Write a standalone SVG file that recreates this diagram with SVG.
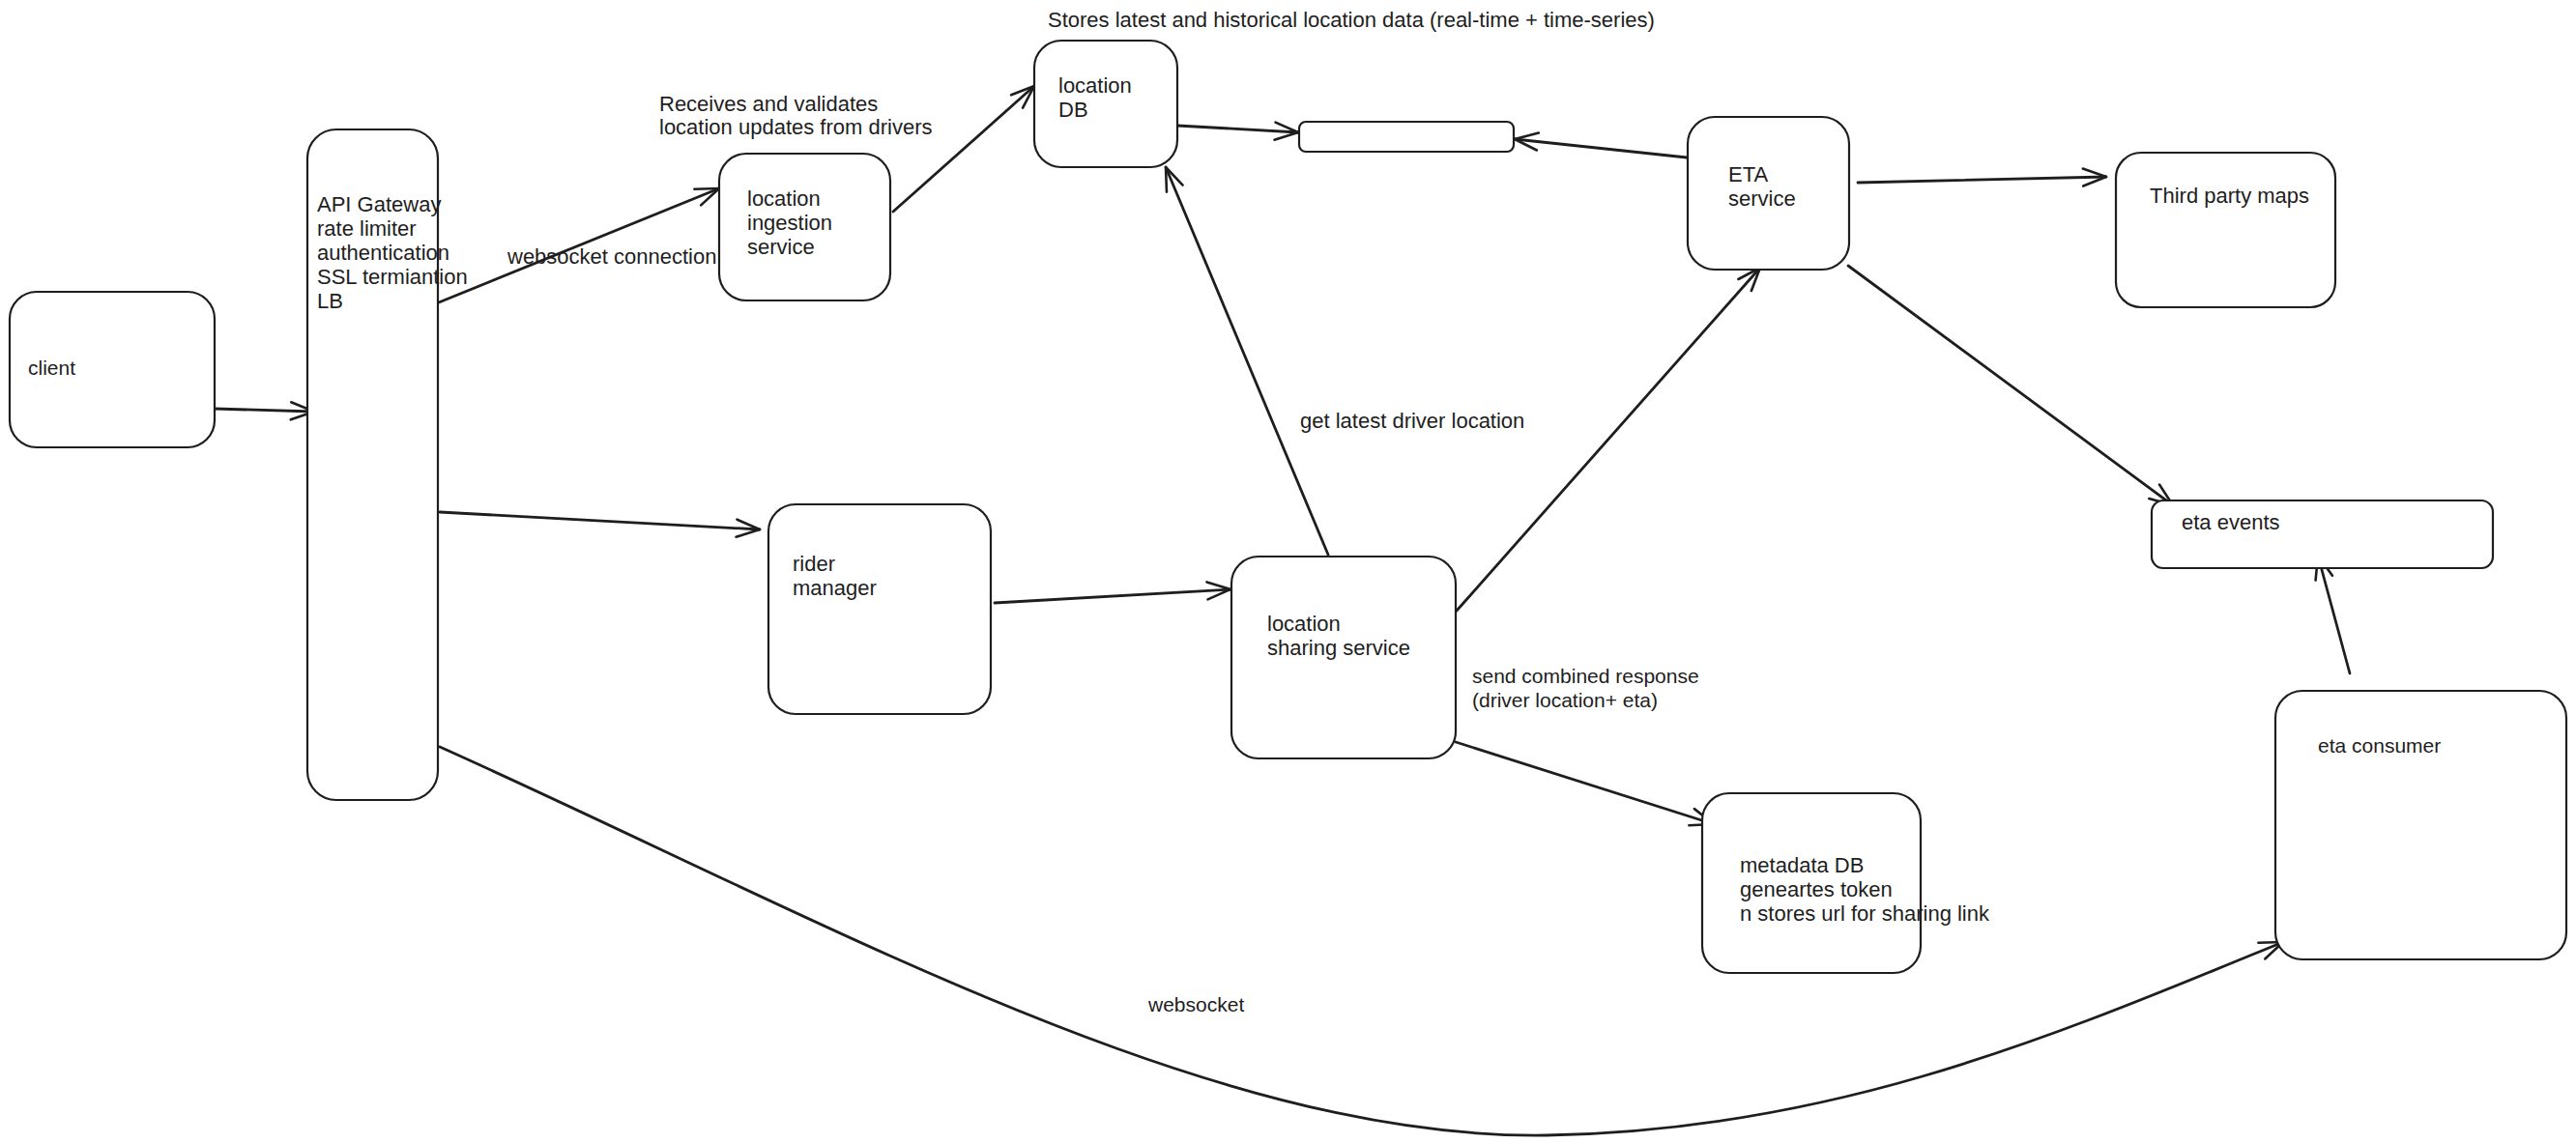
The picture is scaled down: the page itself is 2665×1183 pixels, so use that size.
<svg xmlns="http://www.w3.org/2000/svg" width="2665" height="1183" viewBox="0 0 2665 1183">
<defs>
<style>
.box{fill:#ffffff;stroke:#1e1e1e;stroke-width:2.2}
.t{font-family:"Liberation Sans",Arial,sans-serif;font-size:22px;fill:#1e1e1e}
.c{fill:none;stroke:#1e1e1e;stroke-width:2.8;stroke-linecap:round}
</style>
<marker id="ah" markerUnits="userSpaceOnUse" viewBox="-30 -15 32 30" markerWidth="32" markerHeight="30" refX="0" refY="0" orient="auto" overflow="visible">
<path d="M-24,-9 L0,0 L-24,9" fill="none" stroke="#1e1e1e" stroke-width="2.6" stroke-linecap="round" stroke-linejoin="round"/>
</marker>
</defs>
<rect width="2665" height="1183" fill="#ffffff"/>

<g id="connectors">
<path class="c" d="M222,423 L325,426" marker-end="url(#ah)"/>
<path class="c" d="M454,313 L744,195" marker-end="url(#ah)"/>
<path class="c" d="M924,219 L1070,89" marker-end="url(#ah)"/>
<path class="c" d="M1218,130 L1343,137" marker-end="url(#ah)"/>
<path class="c" d="M1745,163 L1567,144" marker-end="url(#ah)"/>
<path class="c" d="M455,530 L786,548" marker-end="url(#ah)"/>
<path class="c" d="M1029,624 L1273,610" marker-end="url(#ah)"/>
<path class="c" d="M1374,574 L1206,173" marker-end="url(#ah)"/>
<path class="c" d="M1507,632 L1821,277" marker-end="url(#ah)"/>
<path class="c" d="M1922,189 L2179,183" marker-end="url(#ah)"/>
<path class="c" d="M1912,275 L2248,523" marker-end="url(#ah)"/>
<path class="c" d="M1506,768 L1773,853" marker-end="url(#ah)"/>
<path class="c" d="M2431,697 L2398,575" marker-end="url(#ah)"/>
<path class="c" d="M455,773 C850,950 1250,1180 1600,1175 C1900,1170 2130,1070 2362,975" marker-end="url(#ah)"/>
</g>

<g id="labels">
<text class="t" x="1084" y="28">Stores latest and historical location data (real-time + time-series)</text>
<text class="t" x="682" y="115">Receives and validates</text>
<text class="t" x="682" y="139">location updates from drivers</text>
<text class="t" x="525" y="273">websocket connection</text>
<text class="t" x="1345" y="443">get latest driver location</text>
<text class="t" x="1523" y="707" style="font-size:21px">send combined response</text>
<text class="t" x="1523" y="732" style="font-size:21px">(driver location+ eta)</text>
<text class="t" x="1188" y="1047" style="font-size:21px">websocket</text>
</g>

<g id="client">
<rect class="box" x="10" y="302" width="212" height="161" rx="28"/>
<text class="t" x="29" y="388" style="font-size:21px">client</text>
</g>

<g id="api-gateway">
<rect class="box" x="318" y="134" width="135" height="694" rx="30"/>
<text class="t" x="328" y="219">API Gateway</text>
<text class="t" x="328" y="244">rate limiter</text>
<text class="t" x="328" y="269">authentication</text>
<text class="t" x="328" y="294">SSL termiantion</text>
<text class="t" x="328" y="319">LB</text>
</g>

<g id="location-ingestion">
<rect class="box" x="744" y="159" width="177" height="152" rx="28"/>
<text class="t" x="773" y="213">location</text>
<text class="t" x="773" y="238">ingestion</text>
<text class="t" x="773" y="263">service</text>
</g>

<g id="location-db">
<rect class="box" x="1070" y="42" width="148" height="131" rx="28"/>
<text class="t" x="1095" y="96">location</text>
<text class="t" x="1095" y="121">DB</text>
</g>

<g id="cache">
<rect class="box" x="1344" y="126" width="222" height="31" rx="7"/>
</g>

<g id="eta-service">
<rect class="box" x="1746" y="121" width="167" height="158" rx="28"/>
<text class="t" x="1788" y="188">ETA</text>
<text class="t" x="1788" y="213">service</text>
</g>

<g id="third-party-maps">
<rect class="box" x="2189" y="158" width="227" height="160" rx="26"/>
<text class="t" x="2224" y="210">Third party maps</text>
</g>

<g id="eta-events">
<rect class="box" x="2226" y="518" width="353" height="70" rx="12"/>
<text class="t" x="2257" y="548">eta events</text>
</g>

<g id="eta-consumer">
<rect class="box" x="2354" y="715" width="301" height="278" rx="28"/>
<text class="t" x="2398" y="779" style="font-size:21px">eta consumer</text>
</g>

<g id="rider-manager">
<rect class="box" x="795" y="522" width="230" height="217" rx="28"/>
<text class="t" x="820" y="591">rider</text>
<text class="t" x="820" y="616">manager</text>
</g>

<g id="location-sharing">
<rect class="box" x="1274" y="576" width="232" height="209" rx="28"/>
<text class="t" x="1311" y="653">location</text>
<text class="t" x="1311" y="678">sharing service</text>
</g>

<g id="metadata-db">
<rect class="box" x="1761" y="821" width="226" height="186" rx="28"/>
<text class="t" x="1800" y="903">metadata DB</text>
<text class="t" x="1800" y="928">geneartes token</text>
<text class="t" x="1800" y="953">n stores url for sharing link</text>
</g>
</svg>
